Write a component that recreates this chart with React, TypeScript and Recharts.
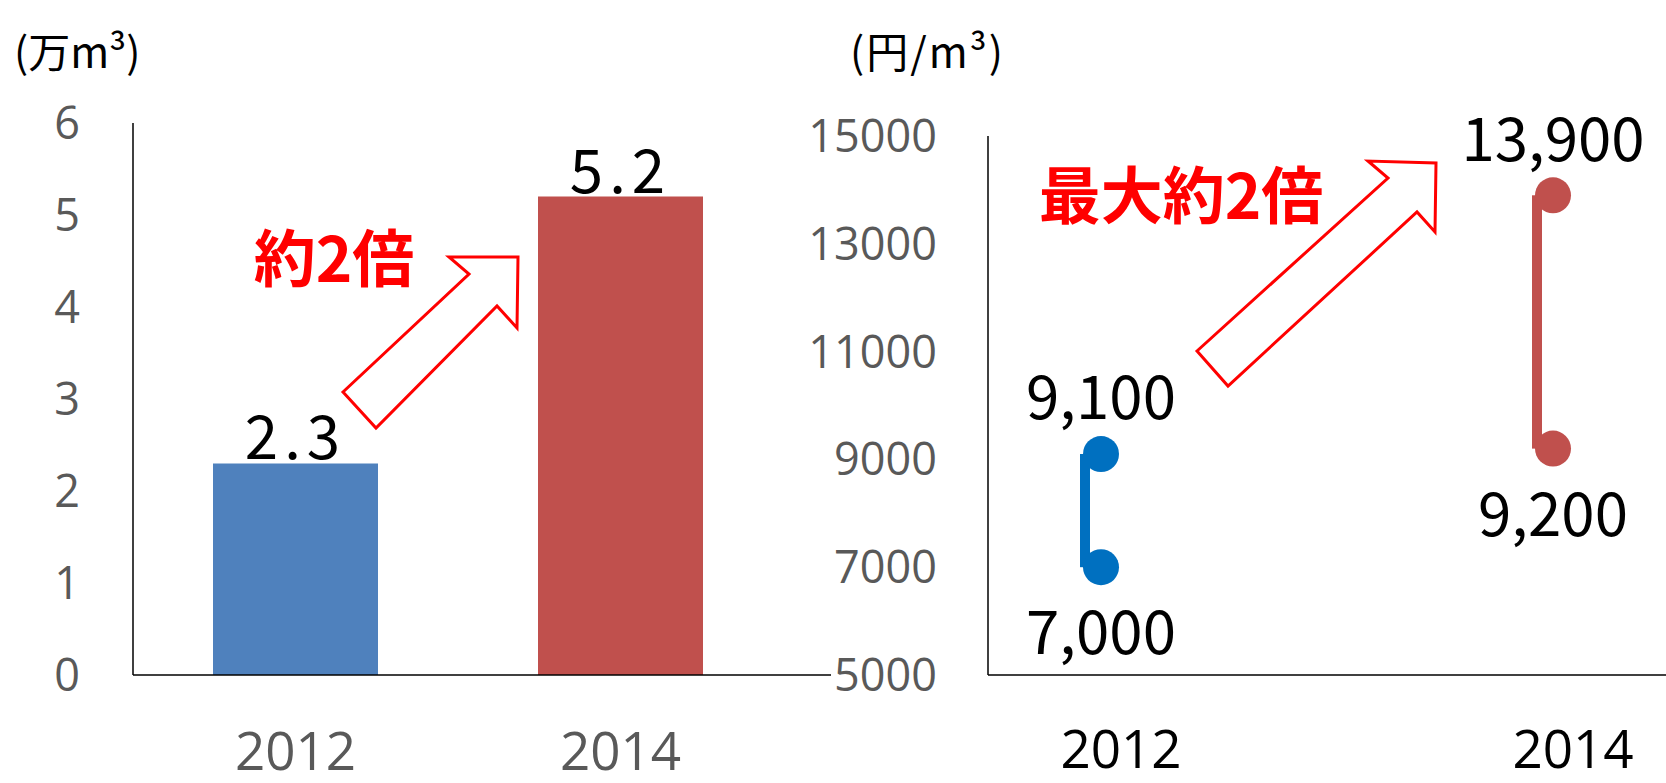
import React from 'react';
import { BarChart, Bar, XAxis, YAxis, LabelList, ComposedChart, Scatter, Cell } from 'recharts';

// left: volume (万m3)
const volumeYears = ['2012', '2014'];
const volumeValues = [2.3, 5.2];
const volumeTicks = [0, 1, 2, 3, 4, 5, 6];

// right: price range (円/m3)
const priceYears = [2012, 2014];
const priceHigh = [9100, 13900];
const priceLow = [7000, 9200];
const priceTicks = [5000, 7000, 9000, 11000, 13000, 15000];

const volumeColors = ['#4F81BD', '#C0504D'];
const priceColors = ['#0070C0', '#C0504D'];

const volumeData = volumeYears.map((year, i) => ({ year, value: volumeValues[i] }));
const rangeData = priceYears.map((year, i) => ({ year, range: [priceLow[i], priceHigh[i]] }));
const highData = priceYears.map((year, i) => ({ year, price: priceHigh[i] }));
const lowData = priceYears.map((year, i) => ({ year, price: priceLow[i] }));

const jp = '"Noto Sans CJK JP", "Noto Sans", sans-serif';
const num = '"Open Sans", sans-serif';
const axisStroke = { stroke: '#000', strokeWidth: 1.5 };

const colorOf = (year: number) => priceColors[priceYears.indexOf(year)];

const Dot = (p: any) => <circle cx={p.cx} cy={p.cy} r={18} fill={colorOf(p.payload.year)} />;

// high-low line sits just left of the markers
const RangeLine = (p: any) => (
  <rect x={p.x - 16} y={p.y} width={p.width} height={p.height} fill={colorOf(p.payload.year)} />
);

const valueLabel = { fontFamily: jp, fontSize: 60, fill: '#000' };
const fmt = (v: any) => Number(v).toLocaleString('en-US');

export default function App() {
  return (
    <div style={{ position: 'absolute', left: 0, top: 0, width: 1666, height: 783, background: '#fff' }}>
      <div style={{ position: 'absolute', left: 0, top: 0 }}>
        <BarChart width={860} height={783} data={volumeData} margin={{ top: 123, right: 29, bottom: 0, left: 33 }}>
          <XAxis
            dataKey="year"
            height={108}
            padding={{ left: 0, right: 48 }}
            axisLine={axisStroke}
            tickLine={false}
            tickSize={0}
            tickMargin={57}
            tick={{ fill: '#595959', fontSize: 53, fontFamily: num }}
          />
          <YAxis
            width={100}
            type="number"
            domain={[0, 6]}
            ticks={volumeTicks}
            axisLine={axisStroke}
            tickLine={false}
            tickSize={0}
            tickMargin={53}
            tick={{ fill: '#595959', fontSize: 45, fontFamily: num }}
          />
          <Bar dataKey="value" barSize={165} isAnimationActive={false}>
            {volumeData.map((d, i) => (
              <Cell key={d.year} fill={volumeColors[i]} />
            ))}
            <LabelList dataKey="value" position="top" offset={4} style={{ ...valueLabel, letterSpacing: 6 }} />
          </Bar>
        </BarChart>
      </div>

      <div style={{ position: 'absolute', left: 790, top: 0 }}>
        <ComposedChart width={876} height={783} data={rangeData} margin={{ top: 136, right: 0, bottom: 0, left: 78 }}>
          <XAxis
            dataKey="year"
            type="number"
            domain={[2011.5, 2014.5]}
            ticks={priceYears}
            height={108}
            axisLine={axisStroke}
            tickLine={false}
            tickSize={0}
            tickMargin={55}
            tick={{ fill: '#000', fontSize: 53, fontFamily: num, fontWeight: 500, dx: 20 }}
          />
          <YAxis
            width={120}
            type="number"
            domain={[5000, 15000]}
            ticks={priceTicks}
            allowDataOverflow
            axisLine={axisStroke}
            tickLine={false}
            tickSize={0}
            tickMargin={51}
            tick={{ fill: '#595959', fontSize: 45, fontFamily: num }}
          />
          <Bar dataKey="range" barSize={10} shape={RangeLine} isAnimationActive={false} />
          <Scatter data={highData} dataKey="price" shape={Dot} isAnimationActive={false}>
            <LabelList dataKey="price" position="top" offset={30} formatter={fmt} style={valueLabel} />
          </Scatter>
          <Scatter data={lowData} dataKey="price" shape={Dot} isAnimationActive={false}>
            <LabelList dataKey="price" position="bottom" offset={40} formatter={fmt} style={valueLabel} />
          </Scatter>
        </ComposedChart>
      </div>

      <svg width={1666} height={783} style={{ position: 'absolute', left: 0, top: 0, pointerEvents: 'none' }}>
        <text x={14} y={68} fontFamily={jp} fontSize={42} fill="#000">(万m³)</text>
        <text x={850} y={68} fontFamily={jp} fontSize={42} fill="#000" letterSpacing={2}>(円/m³)</text>

        <polygon
          points="343,392 376,428 497,306 517,328 518,257 449,257 469,274"
          fill="#fff"
          stroke="#FF0000"
          strokeWidth={3}
        />
        <text x={334} y={282} textAnchor="middle" fontFamily={jp} fontSize={62} fontWeight={700} fill="#FF0000">約2倍</text>

        <polygon
          points="1197,351 1228,386 1417,212 1435,232 1436,163 1368,161 1388,178"
          fill="#fff"
          stroke="#FF0000"
          strokeWidth={3}
        />
        <text x={1181} y={219} textAnchor="middle" fontFamily={jp} fontSize={62} fontWeight={700} fill="#FF0000">最大約2倍</text>
      </svg>
    </div>
  );
}
